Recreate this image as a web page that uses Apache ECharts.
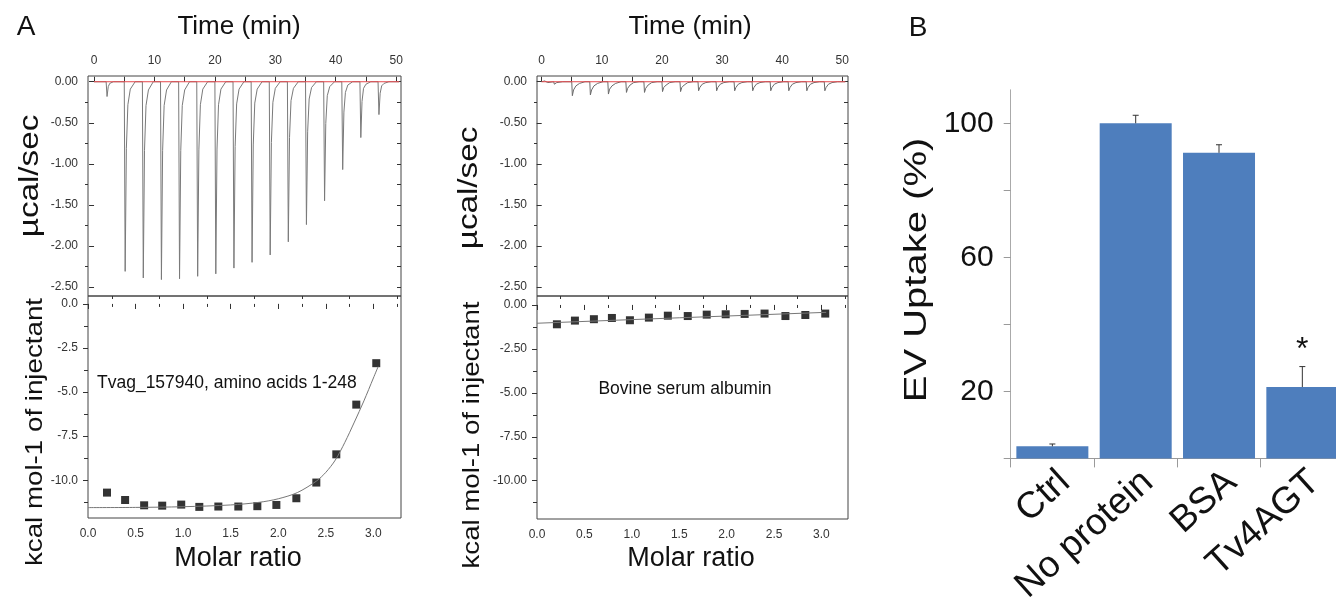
<!DOCTYPE html>
<html><head><meta charset="utf-8">
<script src="https://cdn.jsdelivr.net/npm/echarts@6/dist/echarts.min.js"></script>
<style>html,body{margin:0;padding:0;background:#fff}#c{width:1336px;height:599px}</style>
</head><body><div id="c"></div><script>
const FONT = '"Liberation Sans", Arial, Helvetica, sans-serif';

// ---------- Panel A, left: Tvag_157940 ----------
// raw ITC trace, [time (min), µcal/sec]
const rawTvag = [
 [0,0],[2,0],[2.15,-0.18],[2.35,-0.06],[2.6,-0.02],[3.2,0],
 [5,0],[5.15,-2.31],[5.35,-0.81],[5.6,-0.28],[6.0,-0.09],[6.8,0],
 [8,0],[8.15,-2.39],[8.35,-0.84],[8.6,-0.29],[9.0,-0.10],[9.8,0],
 [11,0],[11.15,-2.41],[11.35,-0.84],[11.6,-0.29],[12.0,-0.10],[12.8,0],
 [14,0],[14.15,-2.40],[14.35,-0.84],[14.6,-0.29],[15.0,-0.10],[15.8,0],
 [17,0],[17.15,-2.37],[17.35,-0.83],[17.6,-0.28],[18.0,-0.09],[18.8,0],
 [20,0],[20.15,-2.34],[20.35,-0.82],[20.6,-0.28],[21.0,-0.09],[21.8,0],
 [23,0],[23.15,-2.27],[23.35,-0.79],[23.6,-0.27],[24.0,-0.09],[24.8,0],
 [26,0],[26.15,-2.20],[26.35,-0.77],[26.6,-0.26],[27.0,-0.09],[27.8,0],
 [29,0],[29.15,-2.11],[29.35,-0.74],[29.6,-0.25],[30.0,-0.08],[30.8,0],
 [32,0],[32.15,-1.95],[32.35,-0.68],[32.6,-0.23],[33.0,-0.08],[33.8,0],
 [35,0],[35.15,-1.74],[35.35,-0.61],[35.6,-0.21],[36.0,-0.07],[36.8,0],
 [38,0],[38.15,-1.45],[38.35,-0.51],[38.6,-0.17],[39.0,-0.06],[39.8,0],
 [41,0],[41.15,-1.07],[41.35,-0.37],[41.6,-0.13],[42.0,-0.04],[42.8,0],
 [44,0],[44.15,-0.68],[44.35,-0.24],[44.6,-0.08],[45.0,-0.03],[45.8,0],
 [47,0],[47.15,-0.40],[47.35,-0.14],[47.6,-0.05],[48.0,-0.02],[48.8,0],
 [50.5,0]
];
const baselineTime = [0, 50.5];
const baselineLevel = [0, 0];
// integrated heats
const molarTvag = [0.20,0.39,0.59,0.78,0.98,1.17,1.37,1.58,1.78,1.98,2.19,2.40,2.61,2.82,3.03];
const heatTvag  = [-10.70,-11.12,-11.42,-11.44,-11.38,-11.51,-11.49,-11.49,-11.47,-11.40,-11.02,-10.13,-8.53,-5.71,-3.36];
const fitTvagX  = [0,0.5,1.0,1.5,1.8,2.0,2.2,2.4,2.5,2.6,2.7,2.8,2.9,3.0,3.05];
const fitTvagY  = [-11.55,-11.54,-11.50,-11.40,-11.25,-11.05,-10.70,-10.05,-9.55,-8.85,-7.85,-6.70,-5.50,-4.20,-3.55];

// ---------- Panel A, middle: BSA ----------
const rawBsa = [
 [0,0],[0.5,0.01],[1.0,-0.01],[2,0],[2.1,-0.03],[2.5,-0.01],[3.5,0],
 [5,0],[5.1,-0.17],[5.3,-0.10],[5.7,-0.05],[6.3,-0.02],[7.2,0],
 [8,0],[8.1,-0.16],[8.3,-0.10],[8.7,-0.05],[9.3,-0.02],[10.2,0],
 [11,0],[11.1,-0.15],[11.3,-0.09],[11.7,-0.05],[12.3,-0.02],[13.2,0],
 [14,0],[14.1,-0.13],[14.3,-0.08],[14.7,-0.04],[15.3,-0.01],[16.2,0],
 [17,0],[17.1,-0.13],[17.3,-0.08],[17.7,-0.04],[18.3,-0.01],[19.2,0],
 [20,0],[20.1,-0.12],[20.3,-0.07],[20.7,-0.04],[21.3,-0.01],[22.2,0],
 [23,0],[23.1,-0.12],[23.3,-0.07],[23.7,-0.04],[24.3,-0.01],[25.2,0],
 [26,0],[26.1,-0.11],[26.3,-0.07],[26.7,-0.03],[27.3,-0.01],[28.2,0],
 [29,0],[29.1,-0.11],[29.3,-0.07],[29.7,-0.03],[30.3,-0.01],[31.2,0],
 [32,0],[32.1,-0.11],[32.3,-0.07],[32.7,-0.03],[33.3,-0.01],[34.2,0],
 [35,0],[35.1,-0.11],[35.3,-0.07],[35.7,-0.03],[36.3,-0.01],[37.2,0],
 [38,0],[38.1,-0.11],[38.3,-0.07],[38.7,-0.03],[39.3,-0.01],[40.2,0],
 [41,0],[41.1,-0.11],[41.3,-0.07],[41.7,-0.03],[42.3,-0.01],[43.2,0],
 [44,0],[44.1,-0.11],[44.3,-0.07],[44.7,-0.03],[45.3,-0.01],[46.2,0],
 [47,0],[47.1,-0.11],[47.3,-0.07],[47.7,-0.03],[48.3,-0.01],[49.2,0],
 [50.5,0]
];
const molarBsa = [0.21,0.40,0.60,0.79,0.98,1.18,1.38,1.59,1.79,1.99,2.19,2.40,2.62,2.83,3.04];
const heatBsa  = [-1.10,-0.89,-0.81,-0.74,-0.87,-0.72,-0.61,-0.63,-0.55,-0.53,-0.51,-0.49,-0.63,-0.57,-0.49];
const fitBsaX  = [0,1.5,3.05];
const fitBsaY  = [-1.04,-0.73,-0.42];

// ---------- Panel B ----------
const uptakeCategories = ['Ctrl','No protein','BSA','Tv4AGT'];
const uptakeValues = [3.6, 100, 91.2, 21.3];
const uptakeErrors = [0.7, 2.4, 2.4, 6.1];
const uptakeSignif = ['', '', '', '*'];

// ---------- tick values ----------
const timeLabels = [0,10,20,30,40,50];
const timeTicks = [0,5,10,15,20,25,30,35,40,45,50];
const rawLabels = [0,-0.5,-1,-1.5,-2,-2.5];
const rawMinor = [-0.25,-0.75,-1.25,-1.75,-2.25];
const rawAll = [0,-0.25,-0.5,-0.75,-1,-1.25,-1.5,-1.75,-2,-2.25,-2.5];
const molarLabels = [0,0.5,1,1.5,2,2.5,3];
const molarMinor = [0.25,0.75,1.25,1.75,2.25,2.75,3.25];
const heatLabels = [0,-2.5,-5,-7.5,-10];
const heatMinor = [-1.25,-3.75,-6.25,-8.75,-11.25];
const heatAll = [0,-1.25,-2.5,-3.75,-5,-6.25,-7.5,-8.75,-10,-11.25];
const uptakeLabels = [20,60,100];
const uptakeTicks = [0,20,40,60,80,100];

// ---------- helpers ----------
const AX = '#333';
function tickAxis(type, grid, pos, min, max, vals, len, inside) {
  return { type:'value', gridIndex:grid, position:pos, min:min, max:max,
    axisLine:{show:false}, axisLabel:{show:false}, splitLine:{show:false},
    axisPointer:{show:false},
    axisTick:{show:true, inside:inside, length:len, customValues:vals, lineStyle:{color:AX,width:1}} };
}
function labelAxis(grid, pos, min, max, labels, ticks, dec, margin, extra) {
  const a = { type:'value', gridIndex:grid, position:pos, min:min, max:max,
    axisLine:{show:false}, splitLine:{show:false},
    axisTick:{show:true, inside:false, length:5, customValues:ticks, lineStyle:{color:AX,width:1}},
    axisLabel:{show:true, customValues:labels, margin:margin, fontSize:12, color:'#333', fontFamily:FONT,
      formatter: v => dec==null ? String(v) : Number(v).toFixed(dec)} };
  return Object.assign(a, extra || {});
}
const timeName = {name:'Time (min)', nameLocation:'middle', nameGap:36,
  nameTextStyle:{fontSize:26, color:'#111', fontFamily:FONT}};
const molarName = {name:'Molar ratio', nameLocation:'middle', nameGap:27,
  nameTextStyle:{fontSize:27, color:'#111', fontFamily:FONT}};

const grids = [
  {left:88, top:76, width:313, height:220},
  {left:88, top:296, width:313, height:222},
  {left:537, top:76, width:311, height:220},
  {left:537, top:296, width:311, height:223},
  {left:1010.7, top:89.8, width:333.3, height:368.6}
].map(g => Object.assign({show:true, borderColor:'#444', borderWidth:1, backgroundColor:'transparent', containLabel:false, outerBoundsMode:'none'}, g));
grids[4].show = false;

const xAxes = [
  labelAxis(0,'top',-1,50.8,timeLabels,timeTicks,null,9,Object.assign({},timeName,{nameTextStyle:{fontSize:26,color:'#111',fontFamily:FONT,padding:[0,11,0,0]}})),  //0
  labelAxis(1,'bottom',0,3.29,molarLabels,molarLabels,1,10,Object.assign({},molarName,{nameTextStyle:{fontSize:27,color:'#111',fontFamily:FONT,padding:[0,13,0,0]}})), //1
  tickAxis('x',1,'bottom',0,3.29,molarMinor,3,false), //2
  tickAxis('x',1,'top',0,3.29,molarLabels,5,true), //3
  tickAxis('x',1,'top',0,3.29,molarMinor,3,true), //4
  labelAxis(2,'top',-0.78,50.95,timeLabels,timeTicks,null,9,Object.assign({},timeName,{nameTextStyle:{fontSize:26,color:'#111',fontFamily:FONT,padding:[0,5,0,0]}})), //5
  labelAxis(3,'bottom',0,3.28,molarLabels,molarLabels,1,10,Object.assign({},molarName,{nameGap:26,nameTextStyle:{fontSize:27,color:'#111',fontFamily:FONT,padding:[0,3,0,0]}})), //6
  tickAxis('x',3,'bottom',0,3.28,molarMinor,3,false), //7
  tickAxis('x',3,'top',0,3.28,molarLabels,5,true), //8
  tickAxis('x',3,'top',0,3.28,molarMinor,3,true), //9
  { type:'category', gridIndex:4, position:'bottom', data:uptakeCategories, boundaryGap:true,
    axisLine:{show:true, lineStyle:{color:'#9a9a9a', width:1}},
    axisTick:{show:true, length:9, lineStyle:{color:'#9a9a9a'}},
    axisLabel:{interval:0, rotate:42, fontSize:37, color:'#111', fontFamily:FONT, margin:5,
      verticalAlign:'top', lineHeight:37} } //10
];
const yAxes = [
  labelAxis(0,'left',-2.61,0.07,rawLabels,rawLabels,2,10), //0
  tickAxis('y',0,'left',-2.61,0.07,rawMinor,3,false), //1
  tickAxis('y',0,'right',-2.61,0.07,rawAll,4,true), //2
  labelAxis(1,'left',-12.14,0.45,heatLabels,heatLabels,1,10), //3
  tickAxis('y',1,'left',-12.14,0.45,heatMinor,3,false), //4
  tickAxis('y',1,'right',-12.14,0.45,heatAll,4,true), //5
  labelAxis(2,'left',-2.61,0.07,rawLabels,rawLabels,2,10), //6
  tickAxis('y',2,'left',-2.61,0.07,rawMinor,3,false), //7
  tickAxis('y',2,'right',-2.61,0.07,rawAll,4,true), //8
  labelAxis(3,'left',-12.18,0.51,heatLabels,heatLabels,2,10), //9
  tickAxis('y',3,'left',-12.18,0.51,heatMinor,3,false), //10
  tickAxis('y',3,'right',-12.18,0.51,heatAll,4,true), //11
  { type:'value', gridIndex:4, position:'left', min:0, max:110,
    axisLine:{show:true, lineStyle:{color:'#aaaaaa', width:1}}, splitLine:{show:false},
    axisTick:{show:true, length:7, customValues:uptakeTicks, lineStyle:{color:'#9a9a9a'}},
    axisLabel:{customValues:uptakeLabels, fontSize:30, color:'#111', fontFamily:FONT, margin:17} } //12
];

const series = [
  {type:'line', name:'Tvag raw', xAxisIndex:0, yAxisIndex:0, data:rawTvag, showSymbol:false, silent:true,
   lineStyle:{color:'#7a7a7a', width:1}},
  {type:'line', name:'Tvag baseline', xAxisIndex:0, yAxisIndex:0, data:baselineTime.map((t,i)=>[t,baselineLevel[i]]),
   showSymbol:false, silent:true, lineStyle:{color:'#e5484d', width:1}},
  {type:'line', name:'Tvag fit', xAxisIndex:1, yAxisIndex:3, data:fitTvagX.map((x,i)=>[x,fitTvagY[i]]),
   smooth:0.3, showSymbol:false, silent:true, lineStyle:{color:'#777', width:1}},
  {type:'scatter', name:'Tvag heat', xAxisIndex:1, yAxisIndex:3, data:molarTvag.map((m,i)=>[m,heatTvag[i]]),
   symbol:'rect', symbolSize:8, itemStyle:{color:'#000'}},
  {type:'line', name:'BSA raw', xAxisIndex:5, yAxisIndex:6, data:rawBsa, showSymbol:false, silent:true,
   lineStyle:{color:'#6a6a6a', width:1}},
  {type:'line', name:'BSA baseline', xAxisIndex:5, yAxisIndex:6, data:baselineTime.map((t,i)=>[t,baselineLevel[i]]),
   showSymbol:false, silent:true, lineStyle:{color:'#e5484d', width:1}},
  {type:'line', name:'BSA fit', xAxisIndex:6, yAxisIndex:9, data:fitBsaX.map((x,i)=>[x,fitBsaY[i]]),
   showSymbol:false, silent:true, lineStyle:{color:'#777', width:1}},
  {type:'scatter', name:'BSA heat', xAxisIndex:6, yAxisIndex:9, data:molarBsa.map((m,i)=>[m,heatBsa[i]]),
   symbol:'rect', symbolSize:8, itemStyle:{color:'#000'}},
  {type:'bar', name:'EV Uptake', xAxisIndex:10, yAxisIndex:12, data:uptakeValues, barWidth:72,
   itemStyle:{color:'#4e7ebd'}},
  {type:'custom', name:'error', xAxisIndex:10, yAxisIndex:12,
   data:uptakeValues.map((v,i)=>[i, v, v+uptakeErrors[i]]),
   renderItem:function(params, api){
     const b = api.coord([api.value(0), api.value(1)]);
     const t = api.coord([api.value(0), api.value(2)]);
     const st = {stroke:'#333', lineWidth:1};
     const kids = [
       {type:'line', shape:{x1:b[0], y1:b[1], x2:t[0], y2:t[1]}, style:st},
       {type:'line', shape:{x1:t[0]-3, y1:t[1], x2:t[0]+3, y2:t[1]}, style:st}
     ];
     const s = uptakeSignif[params.dataIndex];
     if (s) kids.push({type:'text', style:{text:s, x:t[0], y:t[1]-16, textAlign:'center', textVerticalAlign:'middle',
        font:'32px ' + FONT, fill:'#111'}});
     return {type:'group', children:kids};
   }, z:5}
];

function vtext(txt, x, y, size, stretch) {
  return {type:'text', x:x, y:y, rotation:Math.PI/2, scaleX:stretch, scaleY:1, z:100,
    style:{text:txt, font:size+'px '+FONT, fill:'#111', textAlign:'center', textVerticalAlign:'middle'}};
}
function htext(txt, x, y, size, align) {
  return {type:'text', x:x, y:y, z:100,
    style:{text:txt, font:size+'px '+FONT, fill:'#111', textAlign:align||'center', textVerticalAlign:'middle'}};
}

const chart = echarts.init(document.getElementById('c'), null, {renderer:'canvas'});
chart.setOption({
  animation:false,
  backgroundColor:'#ffffff',
  textStyle:{fontFamily:FONT},
  grid:grids, xAxis:xAxes, yAxis:yAxes, series:series,
  graphic:[
    htext('A', 26, 27, 28),
    htext('B', 918, 28, 28),
    vtext('µcal/sec', 31, 176, 27, 1.23),
    vtext('µcal/sec', 470, 188, 27, 1.23),
    vtext('kcal mol-1 of injectant', 35, 432, 24, 1.155),
    vtext('kcal mol-1 of injectant', 472, 435, 24, 1.15),
    vtext('EV Uptake (%)', 917, 270, 32, 1.25),
    htext('Tvag_157940, amino acids 1-248', 97, 383, 17.5, 'left'),
    htext('Bovine serum albumin', 685, 389, 17.5, 'center')
  ]
});
</script></body></html>
